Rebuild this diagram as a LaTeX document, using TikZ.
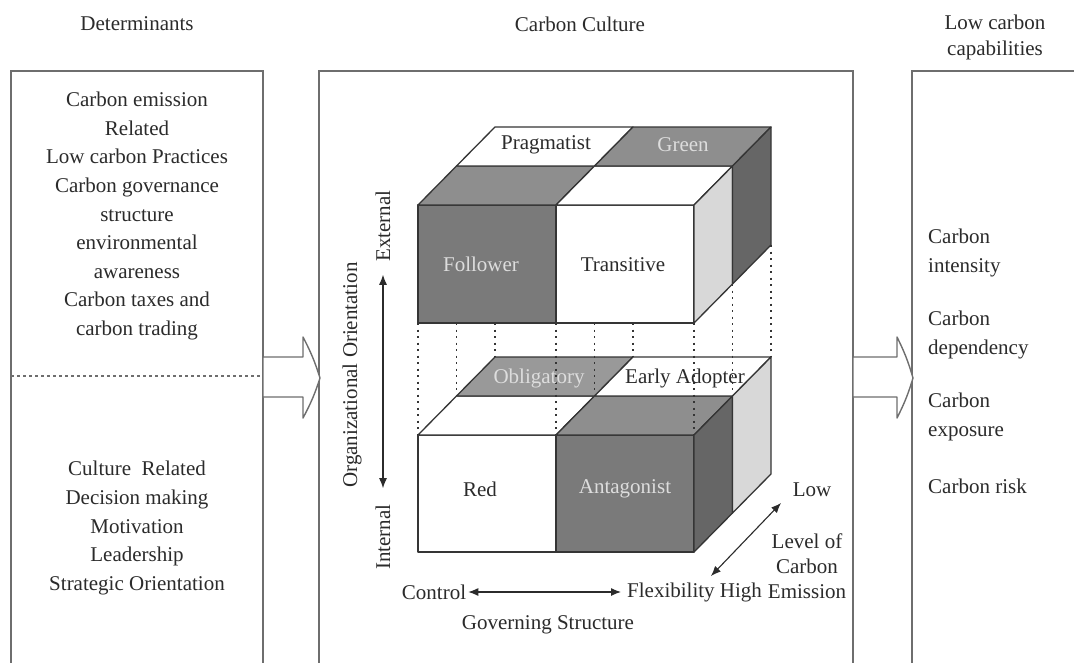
\documentclass[tikz,border=0pt]{standalone}
\usepackage{fontspec}
\setmainfont{Liberation Serif}
\usetikzlibrary{arrows.meta}
\definecolor{txt}{HTML}{2B2B2B}
\definecolor{edge}{HTML}{353535}
\definecolor{panel}{HTML}{6E6E6E}
\definecolor{frontdark}{HTML}{7A7A7A}
\definecolor{topgrey}{HTML}{8E8E8E}
\definecolor{sidedark}{HTML}{666666}
\definecolor{sidelight}{HTML}{D8D8D8}
\definecolor{lighttxt}{HTML}{DDDDDD}
\begin{document}
\begin{tikzpicture}[x=1pt,y=-1pt,
  every node/.style={font=\fontsize{21}{28.6}\selectfont, text=txt, inner sep=0pt},
  panelline/.style={draw=panel, line width=1.6pt},
  face/.style={draw=edge, line width=1.3pt, line join=round},
  dotline/.style={draw=edge, line width=1.6pt, dash pattern=on 2.2pt off 4.3pt},
  axis/.style={draw=txt, line width=1.1pt, {Latex[length=10pt,width=8pt]}-{Latex[length=10pt,width=8pt]}},
  blockarrow/.style={draw=panel, line width=1.4pt, fill=white, line join=round},
  lightlbl/.style={text=lighttxt}]
\useasboundingbox (0,0) rectangle (1074,662);
\fill[white] (0,0) rectangle (1074,662);

% headings
\node (hdet) at (137,24) {Determinants};
\node (hcul) at (580,24) {Carbon Culture};
\node[align=center, font=\fontsize{21}{26}\selectfont] (hcap) at (995,37) {Low carbon\\capabilities};

% panels
\draw[panelline] (11,665) -- (11,71) -- (263,71) -- (263,665);
\draw[panelline] (319,665) -- (319,71) -- (853,71) -- (853,665);
\draw[panelline] (912,665) -- (912,71) -- (1080,71);
\draw[draw=panel, line width=1.2pt, dash pattern=on 3pt off 3pt] (11,376) -- (263,376);

% block arrows
\draw[blockarrow] (263,357) -- (303,357) -- (303,337) to[bend left=5] (320,378) to[bend left=5] (303,418) -- (303,397) -- (263,397) -- cycle;
\draw[blockarrow] (853,357) -- (897,357) -- (897,337) to[bend left=5] (913,378) to[bend left=5] (897,418) -- (897,397) -- (853,397) -- cycle;

% left panel texts
\node[align=center] (detA) at (137,216) {Carbon emission\\Related\\Low carbon Practices\\Carbon governance\\structure\\environmental\\awareness\\Carbon taxes and\\carbon trading};
\node[align=center] (detB) at (137,528) {Culture\ \ Related\\Decision making\\Motivation\\Leadership\\Strategic Orientation};

% right panel texts
\node[anchor=west, align=left] (cap1) at (928,253) {Carbon\\intensity};
\node[anchor=west, align=left] (cap2) at (928,335) {Carbon\\dependency};
\node[anchor=west, align=left] (cap3) at (928,417) {Carbon\\exposure};
\node[anchor=west, align=left] (cap4) at (928,486) {Carbon risk};

% ---- lower cube ----
\filldraw[face, fill=white] (418,435) rectangle (556,552);
\filldraw[face, fill=frontdark] (556,435) rectangle (694,552);
\filldraw[face, fill=white] (418,435) -- (456.5,396) -- (594.5,396) -- (556,435) -- cycle;
\filldraw[face, fill=topgrey] (556,435) -- (594.5,396) -- (732.5,396) -- (694,435) -- cycle;
\filldraw[face, fill=topgrey!90!white] (456.5,396) -- (495,357) -- (633,357) -- (594.5,396) -- cycle;
\filldraw[face, fill=white] (594.5,396) -- (633,357) -- (771,357) -- (732.5,396) -- cycle;
\filldraw[face, fill=sidedark] (694,435) -- (732.5,396) -- (732.5,513) -- (694,552) -- cycle;
\filldraw[face, fill=sidelight] (732.5,396) -- (771,357) -- (771,474) -- (732.5,513) -- cycle;

% ---- upper cube ----
\filldraw[face, fill=frontdark] (418,205) rectangle (556,323);
\filldraw[face, fill=white] (556,205) rectangle (694,323);
\filldraw[face, fill=topgrey] (418,205) -- (456.5,166) -- (594.5,166) -- (556,205) -- cycle;
\filldraw[face, fill=white] (556,205) -- (594.5,166) -- (732.5,166) -- (694,205) -- cycle;
\filldraw[face, fill=white] (456.5,166) -- (495,127) -- (633,127) -- (594.5,166) -- cycle;
\filldraw[face, fill=topgrey] (594.5,166) -- (633,127) -- (771,127) -- (732.5,166) -- cycle;
\filldraw[face, fill=sidelight] (694,205) -- (732.5,166) -- (732.5,284) -- (694,323) -- cycle;
\filldraw[face, fill=sidedark] (732.5,166) -- (771,127) -- (771,245) -- (732.5,284) -- cycle;

% dotted projection lines
\draw[dotline] (418,323) -- (418,435);
\draw[dotline] (456.5,323) -- (456.5,396);
\draw[dotline] (495,323) -- (495,357);
\draw[dotline] (556,323) -- (556,435);
\draw[dotline] (594.5,323) -- (594.5,396);
\draw[dotline] (633,323) -- (633,357);
\draw[dotline] (694,323) -- (694,435);
\draw[dotline] (732.5,284) -- (732.5,396);
\draw[dotline] (771,245) -- (771,357);

% cube labels
\node (prag) at (546,145) {Pragmatist};
\node[lightlbl] (green) at (683,145) {Green};
\node[lightlbl] (foll) at (481,264) {Follower};
\node (trans) at (623,265) {Transitive};
\node[lightlbl] (oblig) at (539,378) {Obligatory};
\node (early) at (685,378) {Early Adopter};
\node (red) at (480,489) {Red};
\node[lightlbl] (antag) at (625,489) {Antagonist};

% axes
\node[rotate=90] (orient) at (352,375) {Organizational Orientation};
\node[rotate=90] (ext) at (383,226) {External};
\node[rotate=90] (int) at (383,537) {Internal};
\draw[axis, shorten <=16pt, shorten >=13pt] (int.east) -- (ext.west);

\node (ctrl) at (434,592) {Control};
\node[anchor=west] (flex) at (627,592) {Flexibility High};
\draw[axis, shorten <=2pt, shorten >=6pt] (ctrl.east) -- (flex.west);
\node (gov) at (548,625) {Governing Structure};

\node (low) at (812,490) {Low};
\node[align=center, font=\fontsize{21}{25}\selectfont] (level) at (807,566) {Level of\\Carbon\\Emission};
\coordinate (dlo) at (711,576);
\coordinate (dhi) at (781,503);
\draw[axis] (dlo) -- (dhi);
\end{tikzpicture}
\end{document}
